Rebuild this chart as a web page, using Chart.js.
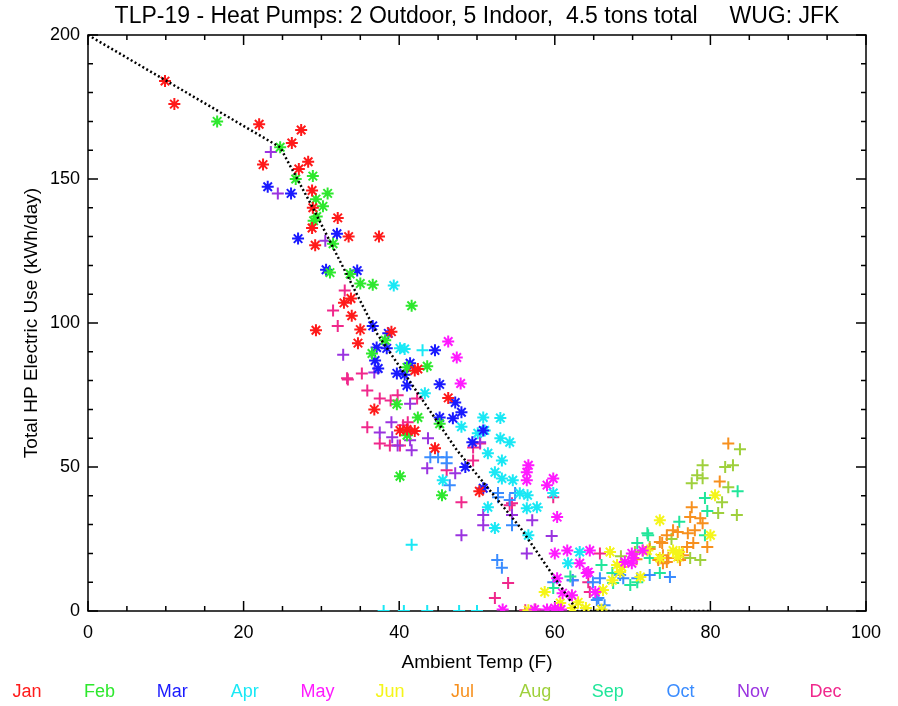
<!DOCTYPE html>
<html>
<head>
<meta charset="utf-8">
<title>TLP-19 heat pump electric use</title>
<script src="https://cdn.jsdelivr.net/npm/chart.js@4.4.1/dist/chart.umd.min.js"></script>
<style>
  html, body { margin: 0; padding: 0; background: #fff; }
  #wrap { width: 898px; height: 706px; }
</style>
</head>
<body>
<div id="wrap"><canvas id="chart" width="898" height="706"></canvas></div>
<script>
// daily points per month: [ambient temp F, total HP kWh/day]
const jan = [[9.9,184],[11.1,176],[22,169],[27.4,167],[26.2,162.5],[22.5,155],[28.3,156],[27.1,153.5],
  [28.8,146],[28.9,140],[32.1,136.5],[28.8,133],[33.5,130],[37.4,130],[29.2,127],[32.9,107],[33.8,108.5],
  [33.9,102.5],[29.3,97.5],[35,97.7],[34.7,93],[39,97],[42,83.5],[42.4,84],[36.8,70],[46.3,74],[40.1,62.7],
  [41,63],[42,62.5],[44.6,56.5],[50.3,41.6]];
const feb = [[16.6,170],[24.7,161],[26.7,150],[28.9,151],[29.3,143],[30.8,145],[30.2,140.5],[29.4,137],
  [29,135.5],[31.5,127.5],[31.1,117.5],[33.7,117],[35,113.7],[36.6,113.3],[41.6,106],[38.2,94],[36.5,89.4],
  [41,84.6],[43.6,85],[39.7,71.8],[42.4,67.2],[41,61],[45.2,65],[45.5,40.2],[40.1,46.8]];
const mar = [[23.1,147.3],[26.1,145],[27,129.3],[32,131],[30.6,118.5],[34.6,118.2],[36.6,99],[38.6,96.4],
  [37.1,91.5],[38.4,91.2],[44.6,90.5],[36.9,87],[37.3,84.2],[39.7,82.5],[40.7,82],[41.4,86],[41,78.3],
  [45.2,78.7],[47.2,72.4],[48,69],[45.2,67.2],[46.9,66.9],[50.8,62.7],[49.4,58.6],[48.5,50],[50.8,42.6]];
const apr = [[39.3,113],[40.1,91.2],[40.7,91],[43.3,75.6],[50.8,67.2],[53,67],[51,62.7],[48,64],[53,60],
  [54.2,58.6],[50.1,61.7],[51.4,54.8],[53.2,52.3],[52.3,48.2],[53.2,46],[54.6,45.4],[55.5,40.9],[56.5,40.2],
  [56.4,35.7],[57.7,36],[45.6,45.4],[51.4,36],[52.3,28.8],[59.8,41],[56.6,26.3],[63.2,20.5],[61.7,16.6]];
const aprLow = [[38,0],[40.6,0],[43.6,0],[47.7,0],[50,0],[41.6,23],[43,90.5]];
const may = [[46.3,93.6],[47.4,88],[47.9,79],[56.6,50.6],[56.4,48.2],[56.4,45.4],[59,43.7],[59.8,46],
  [60.3,32.6],[60,20],[61.6,21],[63.2,16.6],[64.5,21],[61,6.2],[62.2,5.5],[64.1,13.2],[65.2,6.6],[60.3,11.4],
  [64.3,13.5],[69.9,20],[69,17],[69.9,16.6],[60,1],[57.4,0.5],[59,0.5],[60.8,0.5],[53.3,0.5],[70.1,18.4],
  [71.3,21]];
const jun = [[67.1,20.5],[68,16],[68.6,15.3],[68.4,13.5],[73.5,31.5],[58.7,6.6],[56.6,0.3],[62.3,1],
  [66.2,7.3],[67.4,10.7],[73.5,18.4],[71,11.8],[75.8,18.7],[60.7,2.8],[80.6,40.2],[80,26.3],[75.2,21],
  [76,20.5],[71.9,21],[64,1],[66,0.5],[63,3]];
const jul = [[82.3,58.2],[81.2,45],[77.6,36],[77.4,32.6],[78.7,32.2],[79,30.5],[75.2,28],[75.8,27.4],
  [77.1,27],[78,28],[74.4,26.3],[77.8,23.6],[77,22.2],[79.6,22.2],[73.8,23.6],[73.9,19.4],[74.6,18.4],
  [73.9,16.6],[76.5,19.4],[73.3,17.7],[73.5,24],[74.4,17],[76.1,17.7],[70.5,18],[72.2,21.5]];
const aug = [[83.8,56.2],[79,50.6],[81.9,50],[82.9,50.6],[78.3,47.1],[79,46.1],[77.6,44.4],[82.3,43],
  [81.5,37.8],[81,34],[83.4,33.3],[77.4,18.4],[78.7,17.7],[71.3,21],[70.3,20.5],[72.2,22.2],[75,25],[68.5,19]];
const sep = [[83.5,41.6],[79.3,39.2],[79.6,34.7],[79.3,26.3],[72,26.3],[73.5,13.2],[72.2,18.4],[71.9,27],
  [70.6,23.6],[69.7,9],[70.6,10],[59.8,8],[67.4,13.2],[67.5,9.7],[62,12],[66,16],[76,31]];
const oct = [[64.9,10],[65.8,11.4],[68.4,12.5],[68.8,11.4],[70.6,11.4],[72.2,12.5],[62.3,10.7],[65.6,4.5],
  [59.8,10],[74.8,11.8],[52.6,17.7],[53.2,15],[65.4,3.8],[46.1,53.4],[46.1,51.3],[46.5,43.7],[52.7,41],
  [52.7,39.5],[54.9,41],[54.2,38.5],[54.5,29.8],[44,53.4],[45,53.4],[66.4,2]];
const nov = [[23.5,159.4],[24.4,145],[30.5,128.6],[32.8,89],[36.8,82.8],[41.4,72],[39,65.5],[37.5,62],
  [39.1,60.3],[41.4,59.3],[39.8,57.5],[43.7,60],[41.6,55.8],[50.8,33.3],[50.8,29.8],[48,26.3],[54.5,33.3],
  [57.1,31.5],[59.6,26],[47.2,47.8],[43.6,49.6],[56.4,20],[62.3,10.7],[50.4,58.6]];
const dec = [[35.2,82.5],[33.4,80.4],[35.9,76.6],[37.5,73.8],[39.8,74.9],[38.9,73.1],[35.9,63.8],[41.1,65.5],
  [40.5,64.5],[42.3,73.8],[37.5,58.2],[38.8,57.5],[40.1,57.5],[33,111.3],[31.5,104.3],[32.1,99],[33.3,80.8],
  [41.4,62],[50.4,58.2],[48,37.8],[49.5,52.3],[46.1,48.9],[54.5,37.4],[59.8,39.5],[49.5,56.8],[54.2,36.7],
  [54,9.7],[52.3,4.5],[56.2,0.3],[57.5,0.5],[65.8,20],[64.3,10],[64.5,6.6]];

// piecewise fit of use vs temperature
const fitTemp = [0, 24.7, 28.9, 37.1, 47.4, 55.5, 62.9, 80];
const fitUse = [200, 161, 140, 96.5, 55.9, 29.2, 0, 0];

const monthNames = ['Jan','Feb','Mar','Apr','May','Jun','Jul','Aug','Sep','Oct','Nov','Dec'];
const monthColors = ['#ff1a1a','#2ee82e','#1a1aff','#1ae8f5','#ff1aff','#f5f51a',
  '#f7901e','#9fd03c','#20e69a','#3a8cff','#9a33e0','#f0288c'];

const xTicks = { min: 0, max: 100, major: 20, minor: 5 };
const yTicks = { min: 0, max: 200, major: 50, minor: 10 };

const FONT = "'Liberation Sans', Arial, Helvetica, sans-serif";

const toXY = pts => pts.map(p => ({ x: p[0], y: p[1] }));

// which array goes with which month and marker
const series = [
  { pts: jan, m: 0, style: 'star' },
  { pts: feb, m: 1, style: 'star' },
  { pts: mar, m: 2, style: 'star' },
  { pts: apr, m: 3, style: 'star' },
  { pts: aprLow, m: 3, style: 'cross' },
  { pts: may, m: 4, style: 'star' },
  { pts: jun, m: 5, style: 'star' },
  { pts: jul, m: 6, style: 'cross' },
  { pts: aug, m: 7, style: 'cross' },
  { pts: sep, m: 8, style: 'cross' },
  { pts: oct, m: 9, style: 'cross' },
  { pts: nov, m: 10, style: 'cross' },
  { pts: dec, m: 11, style: 'cross' }
];

const datasets = series.map(s => ({
  label: monthNames[s.m],
  data: toXY(s.pts),
  pointStyle: s.style,
  pointRadius: 6,
  pointBorderWidth: 2,
  borderColor: monthColors[s.m],
  backgroundColor: monthColors[s.m],
  showLine: false,
  order: 1
}));

datasets.push({
  label: 'fit',
  data: fitTemp.map((t, i) => ({ x: t, y: fitUse[i] })),
  showLine: true,
  borderColor: '#000',
  borderWidth: 2.5,
  borderDash: [2, 2.5],
  pointRadius: 0,
  fill: false,
  tension: 0,
  order: 0
});

// box around the plot with inward major/minor ticks on all four sides
const frameTicks = {
  id: 'frameTicks',
  beforeDatasetsDraw(chart) {
    const { ctx, chartArea: a, scales: { x, y } } = chart;
    ctx.save();
    ctx.strokeStyle = '#000';
    ctx.lineWidth = 1.5;
    ctx.strokeRect(a.left, a.top, a.right - a.left, a.bottom - a.top);
    ctx.beginPath();
    for (let v = xTicks.min; v <= xTicks.max; v += xTicks.minor) {
      const px = x.getPixelForValue(v);
      const len = v % xTicks.major === 0 ? 10 : 5;
      ctx.moveTo(px, a.bottom); ctx.lineTo(px, a.bottom - len);
      ctx.moveTo(px, a.top); ctx.lineTo(px, a.top + len);
    }
    for (let v = yTicks.min; v <= yTicks.max; v += yTicks.minor) {
      const py = y.getPixelForValue(v);
      const len = v % yTicks.major === 0 ? 10 : 5;
      ctx.moveTo(a.left, py); ctx.lineTo(a.left + len, py);
      ctx.moveTo(a.right, py); ctx.lineTo(a.right - len, py);
    }
    ctx.stroke();
    ctx.restore();
  }
};

// coloured month names along the bottom
const monthKey = {
  id: 'monthKey',
  afterDraw(chart) {
    const { ctx } = chart;
    ctx.save();
    ctx.font = '18px ' + FONT;
    ctx.textAlign = 'center';
    ctx.textBaseline = 'middle';
    monthNames.forEach((name, i) => {
      ctx.fillStyle = monthColors[i];
      ctx.fillText(name, 27 + i * 72.6, 692);
    });
    ctx.restore();
  }
};

new Chart(document.getElementById('chart'), {
  type: 'scatter',
  data: { datasets },
  plugins: [frameTicks, monthKey],
  options: {
    responsive: false,
    animation: false,
    layout: { padding: { left: 0, right: 32, top: 0, bottom: 0 } },
    plugins: {
      legend: { display: false },
      tooltip: { enabled: false },
      title: {
        display: true,
        fullSize: false,
        text: 'TLP-19 - Heat Pumps: 2 Outdoor, 5 Indoor,  4.5 tons total     WUG: JFK',
        color: '#000',
        font: { family: FONT, size: 23, weight: 'normal' },
        padding: { top: 3, bottom: 4.4 }
      }
    },
    scales: {
      x: {
        type: 'linear',
        min: xTicks.min,
        max: xTicks.max,
        ticks: { stepSize: xTicks.major, color: '#000', font: { family: FONT, size: 18 }, padding: 11, maxRotation: 0 },
        grid: { display: false, drawTicks: false },
        border: { display: false },
        title: {
          display: true,
          text: 'Ambient Temp (F)',
          color: '#000',
          font: { family: FONT, size: 19 },
          padding: { top: 0, bottom: 31.6 }
        },
        afterFit(s) { s.height = 95; }
      },
      y: {
        min: yTicks.min,
        max: yTicks.max,
        ticks: { stepSize: yTicks.major, color: '#000', font: { family: FONT, size: 18 }, padding: 8 },
        grid: { display: false, drawTicks: false },
        border: { display: false },
        title: {
          display: true,
          text: 'Total HP Electric Use (kWh/day)',
          color: '#000',
          font: { family: FONT, size: 19 },
          padding: { top: 20, bottom: 0 }
        },
        afterFit(s) { s.width = 88; }
      }
    }
  }
});
</script>
</body>
</html>
